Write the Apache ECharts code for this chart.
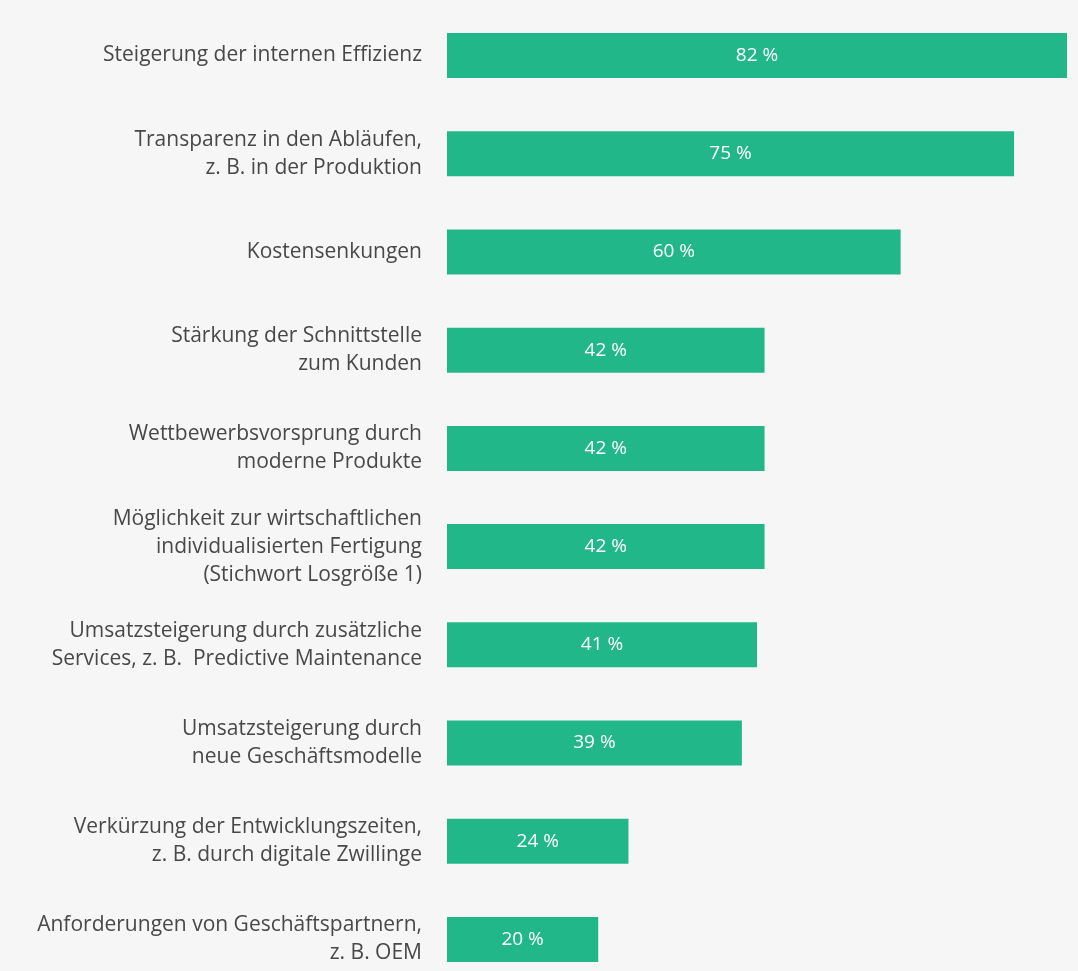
<!DOCTYPE html>
<html>
<head>
<meta charset="utf-8">
<script src="https://cdn.jsdelivr.net/npm/echarts@6/dist/echarts.min.js"></script>
<style>
  html, body { margin: 0; padding: 0; background: #f6f6f6; }
  #chart { width: 1078px; height: 971px; }
</style>
</head>
<body>
<div id="chart"></div>
<script>
// Reasons for digitalisation, share of respondents (%)
const categories = [
  'Steigerung der internen Effizienz',
  'Transparenz in den Abläufen,\nz. B. in der Produktion',
  'Kostensenkungen',
  'Stärkung der Schnittstelle\nzum Kunden',
  'Wettbewerbsvorsprung durch\nmoderne Produkte',
  'Möglichkeit zur wirtschaftlichen\nindividualisierten Fertigung\n(Stichwort Losgröße 1)',
  'Umsatzsteigerung durch zusätzliche\nServices, z. B.  Predictive Maintenance',
  'Umsatzsteigerung durch\nneue Geschäftsmodelle',
  'Verkürzung der Entwicklungszeiten,\nz. B. durch digitale Zwillinge',
  'Anforderungen von Geschäftspartnern,\nz. B. OEM'
];
const values = [82, 75, 60, 42, 42, 42, 41, 39, 24, 20];

const chart = echarts.init(document.getElementById('chart'));
chart.setOption({
  backgroundColor: '#f6f6f6',
  animation: false,
  grid: { left: 447, right: 11, top: 55.5, bottom: 31.5 },
  xAxis: {
    type: 'value', min: 0, max: 82,
    show: false
  },
  yAxis: {
    type: 'category',
    data: categories,
    inverse: true,
    boundaryGap: false,
    axisLine: { show: false },
    axisTick: { show: false },
    splitLine: { show: false },
    axisLabel: {
      margin: 25,
      color: '#484848',
      fontFamily: 'Open Sans',
      fontSize: 21,
      lineHeight: 28,
      align: 'right'
    }
  },
  series: [{
    type: 'bar',
    data: values,
    barWidth: 45,
    itemStyle: { color: '#22b788' },
    label: {
      show: true,
      position: 'inside',
      color: '#ffffff',
      fontFamily: 'Open Sans',
      fontSize: 19,
      formatter: p => p.value + ' %'
    }
  }]
});
</script>
</body>
</html>
